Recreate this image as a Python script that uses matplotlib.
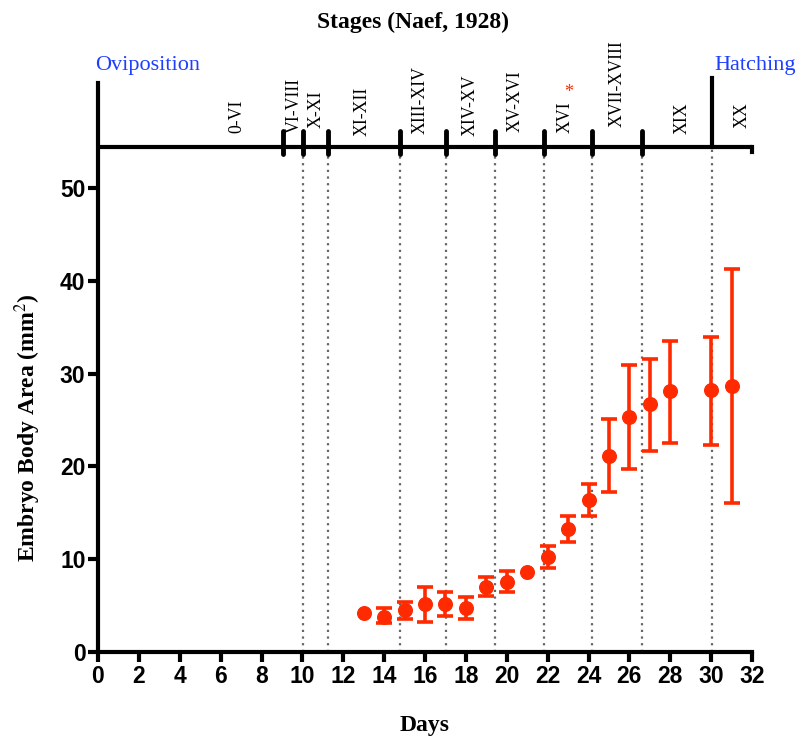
import matplotlib
matplotlib.use("Agg")
import matplotlib.pyplot as plt
import numpy as np

# ---- data ----
days = [13, 14, 15, 16, 17, 18, 19, 20, 21, 22, 23, 24, 25, 26, 27, 28, 30, 31]
area = [4.2, 3.8, 4.5, 5.2, 5.2, 4.7, 7.0, 7.5, 8.6, 10.2, 13.3, 16.4, 21.1, 25.3, 26.7, 28.1, 28.2, 28.7]
err_hi = [4.2, 4.7, 5.4, 7.0, 6.5, 5.9, 8.1, 8.7, 8.6, 11.4, 14.7, 18.1, 25.1, 30.9, 31.6, 33.5, 33.9, 41.3]
err_lo = [4.2, 3.1, 3.6, 3.2, 3.9, 3.6, 6.0, 6.5, 8.6, 9.1, 11.9, 14.7, 17.2, 19.7, 21.7, 22.5, 22.3, 16.1]

stage_bounds = [10.03, 11.25, 14.77, 17.03, 19.42, 21.82, 24.17, 26.61, 30.04]
stage_first_tick = 9.05
stage_labels = ["0-VI", "VI-VIII", "X-XI", "XI-XII", "XIII-XIV", "XIV-XV", "XV-XVI",
                "XVI", "XVII-XVIII", "XIX", "XX"]
stage_label_x = [6.8, 9.6, 10.65, 12.9, 15.75, 18.2, 20.4, 22.85, 25.4, 28.6, 31.5]
stage_label_y = [55.9, 55.9, 56.5, 55.6, 55.8, 55.6, 56.0, 55.9, 56.6, 55.8, 56.5]

xticks = list(range(0, 33, 2))
yticks = [0, 10, 20, 30, 40, 50]

red = "#ff2a00"
blue = "#1f3fff"
serif = ["Liberation Serif", "DejaVu Serif"]
sans_bold = ["Liberation Sans Narrow", "Liberation Sans", "DejaVu Sans"]

fig = plt.figure(figsize=(8, 7.4), dpi=100)
ax = fig.add_axes([0.1225, 0.1189, 0.8175, 0.7776])
ax.set_xlim(0, 32)
ax.set_ylim(0, 62)

y_line = 54.4

# dotted stage boundaries
for b in stage_bounds:
    ax.plot([b, b], [0, y_line], color="#666666", ls=(0, (1, 2)), lw=1.6, zorder=1, clip_on=False)

# stage line
ax.plot([0, 32], [y_line, y_line], color="black", lw=3, solid_capstyle="butt", clip_on=False, zorder=3)
for b in [stage_first_tick] + stage_bounds[:-1]:
    ax.plot([b, b], [53.7, 56.1], color="black", lw=3.5, solid_capstyle="round", clip_on=False, zorder=3)
ax.plot([32, 32], [53.9, y_line], color="black", lw=3, clip_on=False, zorder=3)
ax.plot([stage_bounds[-1]] * 2, [y_line, 61.9], color="black", lw=3, clip_on=False, zorder=3)

for lx, ly, lab in zip(stage_label_x, stage_label_y, stage_labels):
    ax.text(lx, ly, lab, rotation=90, ha="center", va="bottom", fontsize=12.8,
            family=serif, clip_on=False)
ax.text(23.05, 60.3, "*", color=red, fontsize=13, ha="center", va="center", family=serif)

# data
d = np.array(days)
a = np.array(area)
lo = a - np.array(err_lo)
hi = np.array(err_hi) - a
has_err = (lo > 0) | (hi > 0)
ax.errorbar(d[has_err], a[has_err], yerr=[lo[has_err], hi[has_err]], fmt="o", color=red,
            ms=9.8, elinewidth=2.6, capsize=6, capthick=2.6, zorder=5, clip_on=False)
ax.plot(d[~has_err], a[~has_err], "o", color=red, ms=9.8, zorder=5)

# axes styling
for s in ["top", "right"]:
    ax.spines[s].set_visible(False)
ax.spines["left"].set_linewidth(3)
ax.spines["bottom"].set_linewidth(3)
ax.spines["left"].set_bounds(0, 61.3)
ax.spines["bottom"].set_bounds(0, 32)
ax.set_xticks(xticks)
ax.set_yticks(yticks)
ax.tick_params(axis="both", direction="out", length=7, width=3, labelsize=16.5, pad=2)
for t in ax.get_xticklabels() + ax.get_yticklabels():
    t.set_family(sans_bold)
    t.set_fontweight("bold")

ax.set_xlabel("Days", fontsize=17, fontweight="bold", family=serif)
ax.xaxis.set_label_coords(0.5, -0.127)
ax.xaxis.label.set_va("center")
ax.set_ylabel("Embryo Body Area (mm$^2$)", fontsize=17, fontweight="bold", family=serif)
ax.yaxis.label.set_math_fontfamily("stix")
ax.yaxis.set_label_coords(-0.107, 0.39)
ax.yaxis.label.set_va("center")

fig.text(0.516, 0.970, "Stages (Naef, 1928)", ha="center", va="center", fontsize=17,
         fontweight="bold", family=serif)
fig.text(0.119, 0.912, "Oviposition", ha="left", va="center", fontsize=16, color=blue, family=serif)
fig.text(0.893, 0.912, "Hatching", ha="left", va="center", fontsize=16, color=blue, family=serif)

fig.savefig("out.png", dpi=100)
